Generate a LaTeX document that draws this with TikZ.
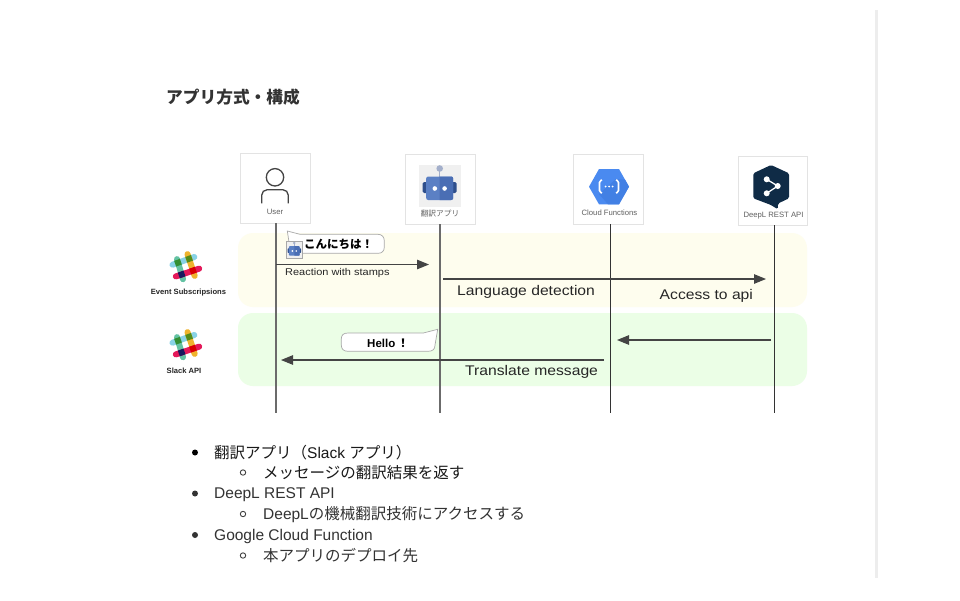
\documentclass[tikz,border=0pt]{standalone}
\usepackage{fontspec}
\setmainfont{Liberation Sans}
\newfontfamily\cjk{Noto Sans CJK JP}
\newfontfamily\widefont[FakeStretch=1.12]{Liberation Sans}
\usetikzlibrary{arrows.meta}
\newcommand{\fsz}[1]{\fontsize{#1}{#1}\selectfont}
\definecolor{boxline}{HTML}{E3E3E3}
\definecolor{bandyellow}{HTML}{FEFDEE}
\definecolor{bandgreen}{HTML}{EBFEE6}
\definecolor{ink}{HTML}{444444}
\definecolor{bubble}{HTML}{A8A8A8}
\definecolor{slackblue}{HTML}{88D2E6}
\definecolor{slackgreen}{HTML}{63C2A3}
\definecolor{slackyellow}{HTML}{EFB32D}
\definecolor{slackred}{HTML}{E4195A}
\definecolor{deeplnavy}{HTML}{0F2B46}
\definecolor{gcplight}{HTML}{4A8AF0}
\definecolor{gcpdark}{HTML}{4280E4}
\definecolor{robotbg}{HTML}{F0F0F0}
\definecolor{robotl}{HTML}{5B80C4}
\definecolor{robotr}{HTML}{4A6EB4}
\definecolor{robote}{HTML}{2F4F8C}
\definecolor{robota}{HTML}{A3AFCB}
\tikzset{
  actor/.style={draw=boxline,fill=white,line width=.9pt,minimum width=70pt,minimum height=70pt,inner sep=0pt,outer sep=0pt},
  band/.style={anchor=north west,minimum width=569pt,rounded corners=15pt,inner sep=0pt,outer sep=0pt},
  life/.style={draw=#1,line width=1.3pt},
  msg/.style={draw=ink,line width=1.1pt,-{Triangle[length=12pt,width=9.5pt]}},
  small/.style={text=ink!85,font=\fsz{7.7}},
  msglabel/.style={text=black!85,font=\widefont\fsz{14},anchor=west,inner sep=0pt},
  logolabel/.style={text=black!85,font=\fsz{7.6}\bfseries,inner sep=0pt},
  listtext/.style={anchor=west,inner sep=0pt,font=\fsz{15.5}},
}
\newcommand{\robot}[3]{%
  \begin{scope}[shift={(#1,#2)},scale=#3]
    \fill[robotbg] (-21,-21) rectangle (21,21);
    \draw[robota,line width=#3*1pt] (0,-17) -- (0,-9);
    \fill[robota] (0,-17.5) circle (3.3);
    \fill[robote,rounded corners=#3*1.5pt] (-17,-4) rectangle (-11,7);
    \fill[robote,rounded corners=#3*1.5pt] (11,-4) rectangle (17,7);
    \fill[robotl,rounded corners=#3*2pt] (-13.5,-9.5) rectangle (13.5,14);
    \begin{scope}
      \clip (0,-12) rectangle (16,16);
      \fill[robotr,rounded corners=#3*2pt] (-13.5,-9.5) rectangle (13.5,14);
    \end{scope}
    \fill[white] (-4.9,2.5) circle (2.3) (4.9,2.5) circle (2.3);
  \end{scope}}
\newcommand{\slacklogo}[2]{%
  \begin{scope}[shift={(#1,#2)},line cap=round,line width=6pt]
    \draw[slackblue] (-14.5,-2.3) -- (7.3,-10);
    \draw[slackgreen] (-10,-7.9) -- (-4,12.2);
    \draw[slackyellow] (.5,-12.9) -- (7.7,8.9);
    \draw[slackred] (-11.2,9.4) -- (12.2,1.6);
    \begin{scope}[line cap=butt]
      \draw[green!45!black!80] (-11.83,-3.3) -- (-6.17,-5.3);
      \draw[green!50!yellow!50!black!90] (-.73,-7.2) -- (4.93,-9.2);
      \draw[blue!30!black!90] (-8.18,8.45) -- (-2.52,6.45);
      \draw[red!85!black] (3.17,4.6) -- (8.83,2.6);
    \end{scope}
  \end{scope}}
\begin{document}
\begin{tikzpicture}[x=1pt,y=-1pt]
\useasboundingbox (0,0) rectangle (960,600);
\fill[white] (0,0) rectangle (960,600);
\fill[black!7] (875,10) rectangle (877.5,578);

\node[anchor=west,inner sep=0pt,text=black!80] (title) at (166,97) {\cjk\fsz{16.7}\bfseries アプリ方式・構成};

% bands
\node[band,fill=bandyellow,minimum height=74pt] (yband) at (238,233) {};
\node[band,fill=bandgreen,minimum height=73pt] (gband) at (238,313) {};

% actors
\node[actor] (user) at (275,188) {};
\node[actor] (app) at (440,189) {};
\node[actor] (cloud) at (608.5,189) {};
\node[actor,minimum width=69pt,minimum height=69pt] (deepl) at (772.5,190.5) {};

% lifeline ends
\coordinate (userend) at (276,413);
\coordinate (append) at (440,413);
\coordinate (cloudend) at (610.5,413);
\coordinate (deeplend) at (774.5,413);
\draw[life=black!58] (userend |- user.south) -- (userend);
\draw[life=black!58] (append |- app.south) -- (append);
\draw[life=black!80] (cloudend |- cloud.south) -- (cloudend);
\draw[life=black!80] (deeplend |- deepl.south) -- (deeplend);

% user icon
\draw[ink,line width=1.3pt] (275,177.3) circle (8.7);
\draw[ink,line width=1.3pt,rounded corners=5.5pt] (261.7,203.3) -- (261.7,189.7) -- (288.3,189.7) -- (288.3,203.3);
\node[small] (userlabel) at (275,212) {User};

% robot
\robot{439.7}{186}{1}
\node[small] (applabel) at (440,213.5) {\cjk 翻訳アプリ};

% cloud functions icon
\fill[gcplight] (589,186.7) -- (599,169) -- (619,169) -- (629,186.7) -- (619,204.3) -- (599,204.3) -- cycle;
\fill[gcpdark] (616,179) -- (625,179.7) -- (629,186.7) -- (619,204.3) -- (608,204.3) -- (599,194) -- cycle;
\draw[white,line width=1.6pt,rounded corners=1.5pt] (602,180) -- (599.5,181) -- (599.5,192) -- (602,193);
\draw[white,line width=1.6pt,rounded corners=1.5pt] (616,180) -- (618.5,181) -- (618.5,192) -- (616,193);
\fill[white] (605.5,186.5) circle (1) (609,186.5) circle (1) (612.5,186.5) circle (1);
\node[small] (cloudlabel) at (609.5,212.5) {Cloud Functions};

% deepl icon
\fill[deeplnavy,rounded corners=1.5pt] (771,165) -- (789,173.3) -- (789,198.3) -- (778,203.5) -- (777.7,209.3) -- (771,205) -- (753.3,198.3) -- (753.3,173.3) -- cycle;
\draw[white,line width=1.3pt] (766.7,179.3) -- (777.7,186) -- (766.7,193.3);
\fill[white] (766.7,179.3) circle (3) (777.7,186) circle (3) (766.7,193.3) circle (3);
\node[small] (deepllabel) at (773.5,216) {DeepL REST API};

% slack
\slacklogo{187}{267}
\node[logolabel] (evlabel) at (188.5,293) {Event Subscripsions};
\slacklogo{187}{345}
\node[logolabel] (sllabel) at (184,371) {Slack API};

% arrows
\coordinate (a1s) at (276,264.5); \coordinate (a1e) at (429,264.5);
\coordinate (a2s) at (443,279); \coordinate (a2e) at (766,279);
\coordinate (a3s) at (771,340); \coordinate (a3e) at (617,340);
\coordinate (a4s) at (604,360); \coordinate (a4e) at (281,360);
\draw[msg] (a1s) -- (a1e);
\draw[msg] (a2s) -- (a2e);
\draw[msg] (a3s) -- (a3e);
\draw[msg] (a4s) -- (a4e);

\node[msglabel,font=\widefont\fsz{9.8}] (m1) at (285,272.5) {Reaction with stamps};
\node[msglabel] (m2) at (457,291.5) {Language detection};
\node[msglabel] (m3) at (659.5,295.5) {Access to api};
\node[msglabel] (m4) at (465,371.5) {Translate message};

% bubbles
\draw[bubble,fill=white,line width=.7pt] (287.3,231) -- (300,234.3) -- (378,234.3) .. controls (382,234.3) and (384.3,237) .. (384.3,241) -- (384.3,247) .. controls (384.3,251) and (382,253.3) .. (378,253.3) -- (296,253.3) -- (289,242) -- cycle;
\robot{294.3}{250}{.4}
\draw[bubble,line width=.6pt] (285.9,241.6) rectangle (302.7,258.4);
\node[anchor=west,inner sep=0pt] (hello1) at (304,244) {\cjk\fsz{11.5}\bfseries こんにちは！};
\draw[bubble,fill=white,line width=.7pt] (437.7,329.3) -- (423.3,333) -- (348,333) .. controls (343.5,333) and (341.3,335) .. (341.3,339) -- (341.3,345) .. controls (341.3,349) and (343.5,351.3) .. (348,351.3) -- (428,351.3) .. controls (433,351.3) and (435,349) .. (435,345) -- cycle;
\node[inner sep=0pt] (hello2) at (388,343) {\fsz{11.5}\bfseries Hello\,{\cjk ！}};

% list
\fill[black] (195,452.5) circle (3);
\draw[black!75,line width=.9pt] (243,472.5) circle (2.7);
\fill[black!80] (195,493.5) circle (3);
\draw[black!75,line width=.9pt] (243,514) circle (2.7);
\fill[black!80] (195,535) circle (3);
\draw[black!75,line width=.9pt] (243,555.5) circle (2.7);
\node[listtext,text=black!90] (l1) at (214,452.5) {{\cjk 翻訳アプリ（}Slack {\cjk アプリ）}};
\node[listtext,text=black!90] (l2) at (263,472.5) {\cjk メッセージの翻訳結果を返す};
\node[listtext,text=black!80] (l3) at (214,495) {DeepL REST API};
\node[listtext,text=black!80] (l4) at (263,514.5) {DeepL{\cjk の機械翻訳技術にアクセスする}};
\node[listtext,text=black!80] (l5) at (214,536.5) {Google Cloud Function};
\node[listtext,text=black!80] (l6) at (263,555.5) {\cjk 本アプリのデプロイ先};
\end{tikzpicture}
\end{document}
